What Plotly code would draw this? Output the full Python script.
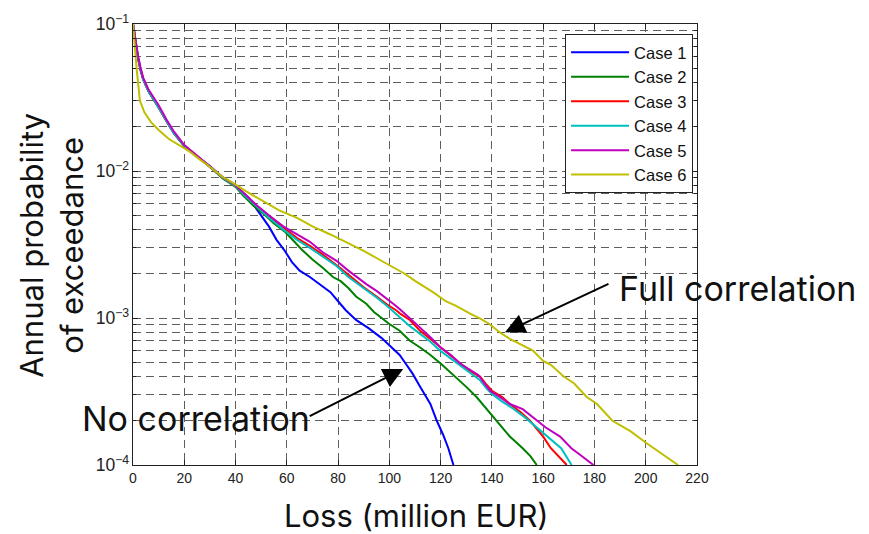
import math
import plotly.graph_objects as go

# Loss (million EUR) and annual probability of exceedance for each case
loss_case1 = [0, 1, 2, 3, 4, 6, 8, 10, 13, 16, 20, 25, 30, 35, 40, 45, 47, 50, 53, 56,
              59, 62, 65, 69, 73, 77, 80, 83, 87, 92, 97, 101, 104, 106, 109, 112, 114,
              116, 118.5, 121, 123, 125]
aep_case1 = [0.1, 0.074, 0.058, 0.048, 0.042, 0.035, 0.031, 0.027, 0.022, 0.018, 0.0148,
             0.0125, 0.0108, 0.009, 0.0079, 0.0066, 0.0059, 0.005, 0.0042, 0.0034, 0.0029,
             0.0024, 0.0021, 0.0019, 0.0017, 0.0015, 0.0013, 0.00113, 0.00097, 0.00085,
             0.00073, 0.00063, 0.00056, 0.0005, 0.00042, 0.00034, 0.0003, 0.00026, 0.0002,
             0.00016, 0.00013, 0.0001]

loss_case2 = [0, 1, 2, 3, 4, 6, 8, 10, 13, 16, 20, 25, 30, 35, 40, 43, 47, 51, 55, 59,
              63, 66, 70, 74, 78, 81, 84, 87, 91, 94, 97, 100, 104, 108, 112, 116, 120,
              125, 130, 134, 138, 142, 147, 152, 155, 157.5]
aep_case2 = [0.1, 0.075, 0.059, 0.049, 0.042, 0.035, 0.031, 0.027, 0.022, 0.018, 0.0148,
             0.0125, 0.0107, 0.0089, 0.0078, 0.0068, 0.0058, 0.0051, 0.0044, 0.0039,
             0.0033, 0.0029, 0.0025, 0.0022, 0.0019, 0.00178, 0.0016, 0.0014, 0.00125,
             0.0011, 0.001, 0.00091, 0.00082, 0.0007, 0.00063, 0.00056, 0.00049, 0.00041,
             0.00034, 0.00029, 0.00024, 0.0002, 0.000156, 0.00013, 0.000115, 0.0001]

loss_case3 = [0, 1, 2, 3, 4, 6, 8, 10, 13, 16, 20, 25, 30, 35, 40, 44, 48, 53, 58.6, 64,
              69, 74, 80.7, 85, 90, 95, 99, 102.9, 104.2, 108, 112, 116, 120, 124, 127.6,
              131, 133, 135.4, 138, 140, 144, 147, 151, 154.9, 157, 160, 163, 166, 169.2]
aep_case3 = [0.1, 0.075, 0.058, 0.048, 0.042, 0.035, 0.031, 0.027, 0.022, 0.018, 0.0149,
             0.0126, 0.0108, 0.009, 0.0079, 0.0068, 0.0058, 0.0049, 0.0041, 0.0035, 0.0031,
             0.0027, 0.0022, 0.0019, 0.00162, 0.0014, 0.00124, 0.00112, 0.00107, 0.00097,
             0.00082, 0.00072, 0.00063, 0.00055, 0.00049, 0.00044, 0.00042, 0.0004,
             0.00035, 0.00032, 0.00029, 0.00026, 0.00023, 0.0002, 0.00018, 0.000156,
             0.00013, 0.000115, 0.0001]

loss_case4 = [0, 1, 2, 3, 4, 6, 8, 10, 13, 16, 20, 25, 30, 35, 40, 44, 48, 53, 58.6, 64,
              69, 74, 79.4, 84, 88, 91, 95, 99, 104.2, 108, 112, 116, 119.8, 124, 127.6,
              131, 135.4, 138, 140.5, 144, 148.3, 153, 158.8, 163, 167, 171.1]
aep_case4 = [0.1, 0.076, 0.059, 0.049, 0.042, 0.035, 0.031, 0.027, 0.022, 0.018, 0.0149,
             0.0126, 0.0108, 0.009, 0.0079, 0.0067, 0.0058, 0.0048, 0.004, 0.0034, 0.003,
             0.0026, 0.00226, 0.0019, 0.0017, 0.00155, 0.00138, 0.00121, 0.00101, 0.00088,
             0.00078, 0.00069, 0.0006, 0.00053, 0.00048, 0.00043, 0.000377, 0.00033,
             0.0003, 0.00027, 0.000242, 0.00021, 0.000173, 0.00015, 0.00013, 0.0001]

loss_case5 = [0, 1, 2, 3, 4, 6, 8, 10, 13, 16, 20, 25, 30, 35, 40, 44, 48, 53, 58.6, 64,
              69, 74, 79.4, 84, 87.3, 91, 95, 98, 101.5, 104, 108, 112, 116, 120, 124,
              127.6, 131, 134.7, 137, 139.3, 143, 147, 152, 156, 161, 166.6, 171, 175, 179.6]
aep_case5 = [0.1, 0.077, 0.06, 0.05, 0.043, 0.036, 0.032, 0.028, 0.0225, 0.0185, 0.015,
             0.0127, 0.0109, 0.0091, 0.008, 0.0069, 0.0059, 0.005, 0.0042, 0.0037, 0.0033,
             0.0028, 0.00245, 0.0021, 0.0019, 0.0017, 0.00153, 0.0014, 0.00125, 0.00115,
             0.001, 0.00086, 0.00074, 0.00063, 0.00056, 0.00049, 0.00045, 0.00041, 0.00036,
             0.00032, 0.00029, 0.00026, 0.00024, 0.00021, 0.00018, 0.000156, 0.00013,
             0.000115, 0.0001]

loss_case6 = [0, 0.7, 1.4, 2.7, 4.5, 7, 10, 14, 18, 22, 26, 30, 35, 38, 44, 51, 57, 64,
              70, 77, 83, 90, 96, 102, 106, 110, 117, 122, 126, 131.5, 136, 139, 143, 147,
              152, 156, 160, 163, 168, 172, 177, 181, 187, 194, 200.5, 206, 212.6]
aep_case6 = [0.1, 0.07, 0.05, 0.03, 0.025, 0.0215, 0.019, 0.0165, 0.015, 0.0136, 0.012,
             0.0107, 0.0091, 0.0085, 0.0073, 0.0062, 0.0054, 0.0048, 0.0042, 0.0037,
             0.0033, 0.00286, 0.0025, 0.0022, 0.002, 0.00179, 0.0015, 0.0013, 0.00121,
             0.00107, 0.00098, 0.00091, 0.0008, 0.00072, 0.00065, 0.0006, 0.00051, 0.00048,
             0.0004, 0.00036, 0.00029, 0.00026, 0.0002, 0.00017, 0.00014, 0.00012, 0.0001]

case_names = ["Case 1", "Case 2", "Case 3", "Case 4", "Case 5", "Case 6"]
case_colors = ["#0000FF", "#008000", "#FF0000", "#00BFBF", "#BF00BF", "#BFBF00"]
losses = [loss_case1, loss_case2, loss_case3, loss_case4, loss_case5, loss_case6]
aeps = [aep_case1, aep_case2, aep_case3, aep_case4, aep_case5, aep_case6]

x_ticks = list(range(0, 221, 20))

# Annotated points (loss, probability) the arrows point at
full_corr_point = (145.1, 8.0e-4)
no_corr_point = (105.4, 4.5e-4)

fig = go.Figure()
for name, color, xs, ys in zip(case_names, case_colors, losses, aeps):
    fig.add_trace(go.Scatter(
        x=xs, y=ys, mode="lines", name=name,
        line=dict(color=color, width=2),
    ))

grid_color = "#5e5e5e"
grid_dash = "8px,5px"
tick_font = dict(family="Liberation Sans, Arial, sans-serif", size=14, color="#222222")
title_font = dict(family="Inter, sans-serif", size=31, color="#111111")
label_font = dict(family="Inter, sans-serif", size=34, color="#111111")

fig.update_xaxes(
    range=[0, 220], tickvals=x_ticks, ticks="inside", ticklen=5, tickcolor="#222",
    showline=True, linecolor="#222", linewidth=1, mirror="ticks",
    showgrid=True, gridcolor=grid_color, griddash=grid_dash, gridwidth=1,
    zeroline=False, tickfont=tick_font,
)
fig.update_yaxes(
    type="log", range=[-4, -1], tickmode="linear", tick0=0, dtick=1,
    exponentformat="power", ticks="inside", ticklen=5, tickcolor="#222",
    showline=True, linecolor="#222", linewidth=1, mirror="ticks",
    showgrid=True, gridcolor=grid_color, griddash=grid_dash, gridwidth=1,
    zeroline=False, tickfont=tick_font,
    minor=dict(dtick="D1", ticks="inside", ticklen=3, tickcolor="#222",
               showgrid=True, gridcolor=grid_color, griddash=grid_dash, gridwidth=1),
)

annotations = [
    # axis titles
    dict(text="Loss (million EUR)", xref="paper", yref="paper", x=0.5035, y=-0.114,
         xanchor="center", yanchor="middle", showarrow=False, font=title_font),
    dict(text="Annual probability<br>of exceedance", xref="paper", yref="paper",
         x=-0.1436, y=0.497, xanchor="center", yanchor="middle", showarrow=False,
         textangle=-90, font=title_font),
    # arrows
    dict(x=full_corr_point[0], y=math.log10(full_corr_point[1]), xref="x", yref="y",
         ax=105, ay=-49, axref="pixel", ayref="pixel", text="", showarrow=True,
         arrowhead=2, arrowsize=2, arrowwidth=2, arrowcolor="#000"),
    dict(x=no_corr_point[0], y=math.log10(no_corr_point[1]), xref="x", yref="y",
         ax=-95, ay=48, axref="pixel", ayref="pixel", text="", showarrow=True,
         arrowhead=2, arrowsize=2, arrowwidth=2, arrowcolor="#000"),
    # labels
    dict(text="Full correlation", xref="paper", yref="paper", x=0.858, y=0.40,
         xanchor="left", yanchor="middle", showarrow=False, font=label_font),
    dict(text="No correlation", xref="paper", yref="paper", x=-0.094, y=0.106,
         xanchor="left", yanchor="middle", showarrow=False, font=label_font),
]

fig.update_layout(
    width=869, height=534,
    margin=dict(l=133, r=172, t=22, b=69),
    paper_bgcolor="white", plot_bgcolor="white",
    showlegend=True,
    legend=dict(
        x=0.993, y=0.977, xanchor="right", yanchor="top",
        bgcolor="white", bordercolor="#222", borderwidth=1,
        font=dict(family="Liberation Sans, Arial, sans-serif", size=16.5, color="#111"),
        itemwidth=58,
    ),
    annotations=annotations,
)

fig.write_html("out.html")
